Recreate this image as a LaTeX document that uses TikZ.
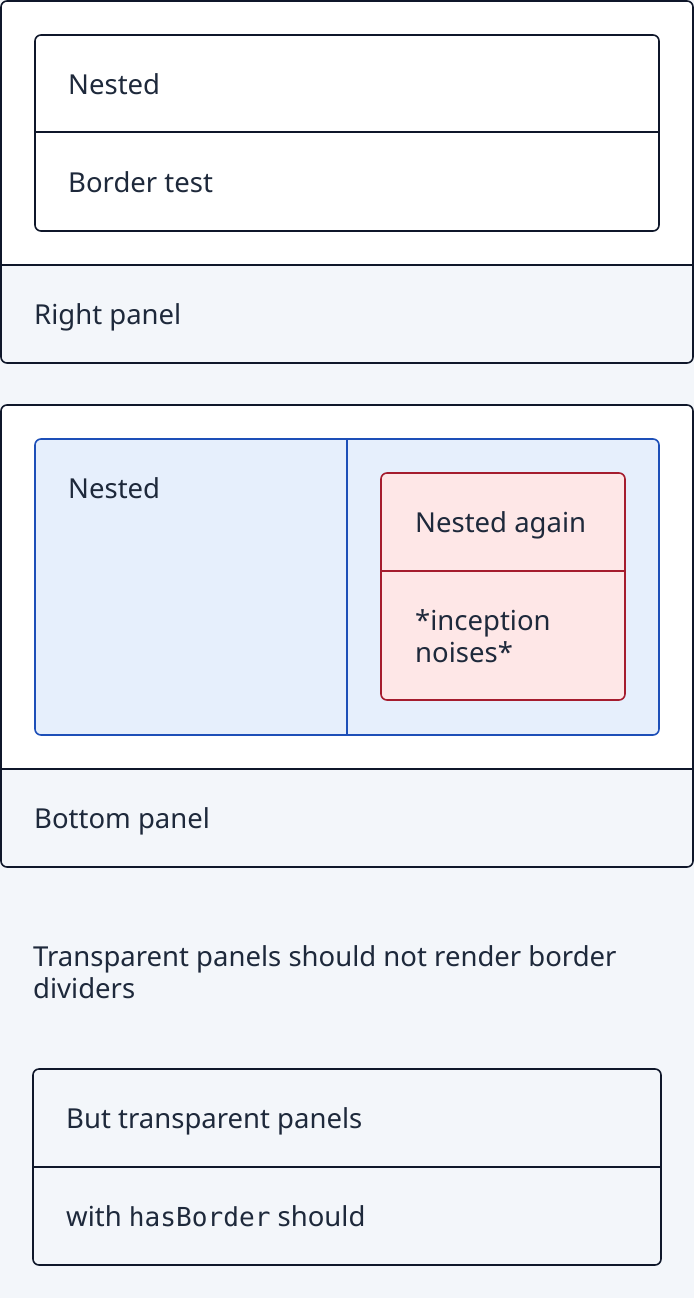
\documentclass[tikz,border=0pt]{standalone}
\usepackage{fontspec}
\setmainfont{Noto Sans}
\setmonofont[Scale=0.95]{DejaVu Sans Mono}
\definecolor{bgc}{HTML}{F3F6FA}
\definecolor{inkc}{HTML}{1E293B}
\definecolor{edgec}{HTML}{0F172A}
\definecolor{bluefill}{HTML}{E6EFFC}
\definecolor{blueedge}{HTML}{1D4FB8}
\definecolor{redfill}{HTML}{FEE7E7}
\definecolor{rededge}{HTML}{A51C2E}
\tikzset{
  panel/.style={draw=edgec, line width=1.6pt, rounded corners=6pt},
  divider/.style={draw=edgec, line width=1.6pt},
  label/.style={anchor=base west, inner sep=0pt, text=inkc, font=\fontsize{27.5}{32}\selectfont},
}
\begin{document}
\begin{tikzpicture}[x=1pt,y=-1pt]
\useasboundingbox (0,0) rectangle (694,1298);
\fill[bgc] (0,0) rectangle (694,1298);
% Panel 1
\fill[white, rounded corners=6pt] (1,1) rectangle (693,363);
\begin{scope}
  \clip[rounded corners=6pt] (1,1) rectangle (693,363);
  \fill[bgc] (1,265) rectangle (693,363);
\end{scope}
\draw[panel] (1,1) rectangle (693,363);
\draw[divider] (1,265) -- (693,265);
\draw[panel, fill=white] (35,35) rectangle (659,231);
\draw[divider] (35,132) -- (659,132);
\node[label] (n1) at (68,94) {Nested};
\node[label] (bt) at (68,192) {Border test};
\node[label] (rp) at (34,324) {Right panel};
% Panel 2
\fill[white, rounded corners=6pt] (1,405) rectangle (693,867);
\begin{scope}
  \clip[rounded corners=6pt] (1,405) rectangle (693,867);
  \fill[bgc] (1,769) rectangle (693,867);
\end{scope}
\draw[panel] (1,405) rectangle (693,867);
\draw[divider] (1,769) -- (693,769);
\draw[panel, draw=blueedge, fill=bluefill] (35,439) rectangle (659,735);
\draw[divider, draw=blueedge] (347,439) -- (347,735);
\node[label] (n2) at (68,498) {Nested};
\draw[panel, draw=rededge, fill=redfill] (381,473) rectangle (625,700);
\draw[divider, draw=rededge] (381,571) -- (625,571);
\node[label] (na) at (415,532) {Nested again};
\node[label, align=left] (ip) at (415,662) {*inception\\noises*};
\node[label] (bp) at (34,828) {Bottom panel};
% Transparent
\node[label, align=left] (tp) at (33,998) {Transparent panels should not render border\\dividers};
\draw[panel] (33,1069) rectangle (661,1265);
\draw[divider] (33,1167) -- (661,1167);
\node[label] (bt2) at (66,1128) {But transparent panels};
\node[label] (hb) at (66,1226) {with \texttt{hasBorder} should};
\end{tikzpicture}
\end{document}
